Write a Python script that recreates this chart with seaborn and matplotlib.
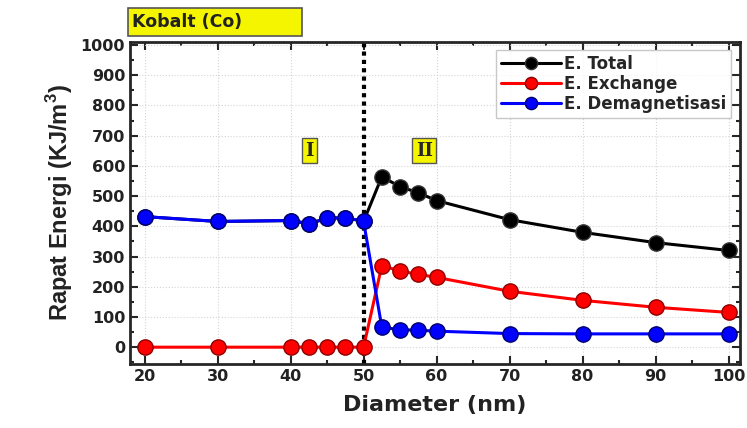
import matplotlib
matplotlib.use("Agg")
import matplotlib.pyplot as plt
from matplotlib.patches import Rectangle
from matplotlib.ticker import MultipleLocator
import pandas as pd
import seaborn as sns

# data
diameter = [20, 30, 40, 42.5, 45, 47.5, 50, 52.5, 55, 57.5, 60, 70, 80, 90, 100]
e_demag = [432, 416, 419, 409, 426, 429, 416, 66, 58, 56, 53, 45, 44, 44, 44]
e_exchange = [0, 0, 0, 0, 0, 0, 0, 270, 252, 241, 231, 185, 155, 132, 115]
e_total = [432, 416, 419, 409, 426, 429, 416, 564, 531, 511, 485, 422, 380, 346, 320]

series_names = ["E. Total", "E. Exchange", "E. Demagnetisasi"]
series_colors = ["black", "red", "blue"]

df = pd.DataFrame({
    "Diameter": diameter * 3,
    "Energi": e_total + e_exchange + e_demag,
    "Seri": [series_names[0]] * len(diameter) + [series_names[1]] * len(diameter)
            + [series_names[2]] * len(diameter),
})

sns.set_style("ticks")
plt.rcParams["font.family"] = ["DejaVu Sans"]
plt.rcParams["font.weight"] = "bold"
plt.rcParams["mathtext.fontset"] = "custom"
plt.rcParams["mathtext.rm"] = "Liberation Sans"
plt.rcParams["mathtext.bf"] = "Liberation Sans:bold"

fig = plt.figure(figsize=(7.47, 4.28), dpi=100)
ax = fig.add_axes([0.174, 0.150, 0.816, 0.752])

edge_colors = {"E. Total": "#333333", "E. Exchange": "#8b0000", "E. Demagnetisasi": "#00006b"}
for name, col in zip(series_names, series_colors):
    sub = df[df["Seri"] == name]
    sns.lineplot(data=sub, x="Diameter", y="Energi", ax=ax, color=col, marker="o",
                 markersize=11, linewidth=2.2, markeredgecolor=edge_colors[name],
                 markeredgewidth=1.0, label=name, sort=False)

ax.axvline(50, color="black", linestyle=(0, (1, 1)), linewidth=3, zorder=1)

ax.set_xlim(18, 101.5)
ax.set_ylim(-55, 1010)
ax.xaxis.set_major_locator(MultipleLocator(10))
ax.xaxis.set_minor_locator(MultipleLocator(5))
ax.yaxis.set_major_locator(MultipleLocator(100))
ax.yaxis.set_minor_locator(MultipleLocator(50))
ax.tick_params(which="both", direction="in", top=True, right=True, width=1.5)
ax.tick_params(which="major", length=6, labelsize=11.5)
ax.tick_params(which="minor", length=3)
for lbl in ax.get_xticklabels() + ax.get_yticklabels():
    lbl.set_fontweight("bold")
    lbl.set_color("#222222")
for sp in ax.spines.values():
    sp.set_linewidth(2)
ax.grid(True, which="major", linestyle=":", color="#d5d5d5", linewidth=0.8)

ax.set_xlabel("Diameter (nm)", fontsize=16, fontweight="bold", labelpad=8, color="#222222")
ax.set_ylabel("Rapat Energi (KJ/m$^\\mathbf{3}$)", fontsize=17, fontweight="bold",
              family="Liberation Sans", color="#222222", labelpad=4)

ax.legend(loc="upper right", frameon=True, fancybox=False, edgecolor="#bbbbbb",
          prop={"weight": "bold", "size": 12}, handlelength=3.6, handletextpad=0.2,
          borderaxespad=0.5, labelspacing=0.1, borderpad=0.3, markerscale=0.8)

box = dict(boxstyle="square,pad=0.2", facecolor="#f5f500", edgecolor="#555555")
ax.text(42.6, 650, "I", fontsize=13, fontweight="bold", family="DejaVu Serif",
        ha="center", va="center", bbox=box)
ax.text(58.3, 650, "II", fontsize=13, fontweight="bold", family="DejaVu Serif",
        ha="center", va="center", bbox=box)

fig.patches.append(Rectangle((0.171, 0.916), 0.233, 0.065, transform=fig.transFigure,
                             facecolor="#f5f500", edgecolor="#555555", linewidth=1.2))
fig.text(0.177, 0.949, "Kobalt (Co)", fontsize=12.5, fontweight="bold",
         ha="left", va="center", color="#222222")

fig.savefig("out.png", dpi=100)
